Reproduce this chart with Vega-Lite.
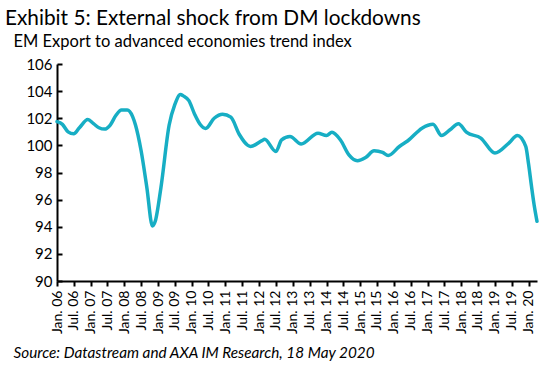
{
  "$schema": "https://vega.github.io/schema/vega-lite/v6.json",
  "width": 480,
  "height": 217,
  "autosize": "none",
  "padding": {"left": 57, "top": 64, "right": 22, "bottom": 87},
  "background": "white",
  "config": {"view": {"stroke": null}, "font": "Lato"},
  "title": {
    "text": "Exhibit 5: External shock from DM lockdowns",
    "anchor": "start",
    "frame": "group",
    "dx": -52,
    "offset": 3,
    "fontSize": 20.8,
    "fontWeight": "normal",
    "font": "Lato",
    "color": "#000000"
  },
  "data": {
    "values": [
      {"date": "2006-01-01", "value": 101.75},
      {"date": "2006-03-01", "value": 101.55},
      {"date": "2006-05-01", "value": 101.0},
      {"date": "2006-07-01", "value": 100.85},
      {"date": "2006-09-01", "value": 101.3},
      {"date": "2006-12-01", "value": 101.9},
      {"date": "2007-02-01", "value": 101.6},
      {"date": "2007-04-01", "value": 101.3},
      {"date": "2007-06-01", "value": 101.2},
      {"date": "2007-08-01", "value": 101.5},
      {"date": "2007-10-01", "value": 102.2},
      {"date": "2007-12-01", "value": 102.6},
      {"date": "2008-02-01", "value": 102.6},
      {"date": "2008-04-01", "value": 102.1},
      {"date": "2008-05-01", "value": 101.5},
      {"date": "2008-07-01", "value": 99.6},
      {"date": "2008-09-01", "value": 96.9},
      {"date": "2008-11-01", "value": 94.05},
      {"date": "2008-12-01", "value": 94.4},
      {"date": "2009-02-01", "value": 96.9},
      {"date": "2009-05-01", "value": 101.5},
      {"date": "2009-07-01", "value": 103.0},
      {"date": "2009-09-01", "value": 103.75},
      {"date": "2009-10-01", "value": 103.65},
      {"date": "2009-12-01", "value": 103.3},
      {"date": "2010-02-01", "value": 102.3},
      {"date": "2010-04-01", "value": 101.56},
      {"date": "2010-06-01", "value": 101.25},
      {"date": "2010-09-01", "value": 102.0},
      {"date": "2010-12-01", "value": 102.3},
      {"date": "2011-03-01", "value": 102.08},
      {"date": "2011-06-01", "value": 100.8},
      {"date": "2011-09-01", "value": 100.0},
      {"date": "2011-10-01", "value": 99.92},
      {"date": "2012-02-01", "value": 100.35},
      {"date": "2012-03-01", "value": 100.45},
      {"date": "2012-07-01", "value": 99.55},
      {"date": "2012-09-01", "value": 100.4},
      {"date": "2012-12-01", "value": 100.65},
      {"date": "2013-04-01", "value": 100.1},
      {"date": "2013-10-01", "value": 100.9},
      {"date": "2014-01-01", "value": 100.73},
      {"date": "2014-03-01", "value": 100.97},
      {"date": "2014-06-01", "value": 100.4},
      {"date": "2014-09-01", "value": 99.3},
      {"date": "2014-12-01", "value": 98.87},
      {"date": "2015-03-01", "value": 99.1},
      {"date": "2015-06-01", "value": 99.6},
      {"date": "2015-09-01", "value": 99.48},
      {"date": "2015-11-01", "value": 99.26},
      {"date": "2016-03-01", "value": 99.92},
      {"date": "2016-06-01", "value": 100.34},
      {"date": "2016-11-01", "value": 101.27},
      {"date": "2017-03-01", "value": 101.56},
      {"date": "2017-06-01", "value": 100.73},
      {"date": "2017-09-01", "value": 101.15},
      {"date": "2017-12-01", "value": 101.6},
      {"date": "2018-03-01", "value": 100.95},
      {"date": "2018-08-01", "value": 100.54},
      {"date": "2019-01-01", "value": 99.43},
      {"date": "2019-06-01", "value": 100.17},
      {"date": "2019-09-01", "value": 100.73},
      {"date": "2019-12-01", "value": 99.92},
      {"date": "2020-01-01", "value": 98.6},
      {"date": "2020-02-01", "value": 97.0},
      {"date": "2020-03-01", "value": 95.6},
      {"date": "2020-04-01", "value": 94.4}
    ]
  },
  "mark": {"type": "line", "color": "#17AEC4", "strokeWidth": 3.5, "interpolate": "monotone", "strokeCap": "round"},
  "encoding": {
    "x": {
      "field": "date",
      "type": "temporal",
      "scale": {"domain": ["2006-01-01", "2020-04-01"]},
      "axis": {
        "values": ["2006-01-01","2006-07-01","2007-01-01","2007-07-01","2008-01-01","2008-07-01","2009-01-01","2009-07-01","2010-01-01","2010-07-01","2011-01-01","2011-07-01","2012-01-01","2012-07-01","2013-01-01","2013-07-01","2014-01-01","2014-07-01","2015-01-01","2015-07-01","2016-01-01","2016-07-01","2017-01-01","2017-07-01","2018-01-01","2018-07-01","2019-01-01","2019-07-01","2020-01-01"],
        "format": "%b. %y",
        "labelAngle": -90,
        "labelAlign": "right",
        "labelBaseline": "middle",
        "labelFontSize": 14,
        "labelColor": "#000000",
        "labelPadding": 4,
        "labelFont": "Lato",
        "domainColor": "#000000",
        "domainWidth": 2,
        "tickColor": "#000000",
        "tickWidth": 2,
        "tickSize": 5,
        "grid": false,
        "title": "Source: Datastream and AXA IM Research, 18 May 2020",
        "titleFont": "Lato",
        "titleFontStyle": "italic",
        "titleFontWeight": "normal",
        "titleFontSize": 15.3,
        "titleColor": "#000000",
        "titleAlign": "left",
        "titleBaseline": "alphabetic",
        "titleX": -44,
        "titleY": 76
      }
    },
    "y": {
      "field": "value",
      "type": "quantitative",
      "scale": {"domain": [90, 106], "nice": false, "zero": false},
      "axis": {
        "values": [90, 92, 94, 96, 98, 100, 102, 104, 106],
        "labelFontSize": 15,
        "labelColor": "#000000",
        "labelFont": "Lato",
        "labelPadding": 10,
        "domainColor": "#000000",
        "domainWidth": 2,
        "tickColor": "#000000",
        "tickWidth": 2,
        "tickSize": -5,
        "grid": false,
        "title": "EM Export to advanced economies trend index",
        "titleFont": "Lato",
        "titleFontWeight": "normal",
        "titleFontSize": 16.5,
        "titleColor": "#000000",
        "titleAngle": 0,
        "titleAlign": "left",
        "titleBaseline": "alphabetic",
        "titleX": -44,
        "titleY": -18
      }
    }
  }
}
